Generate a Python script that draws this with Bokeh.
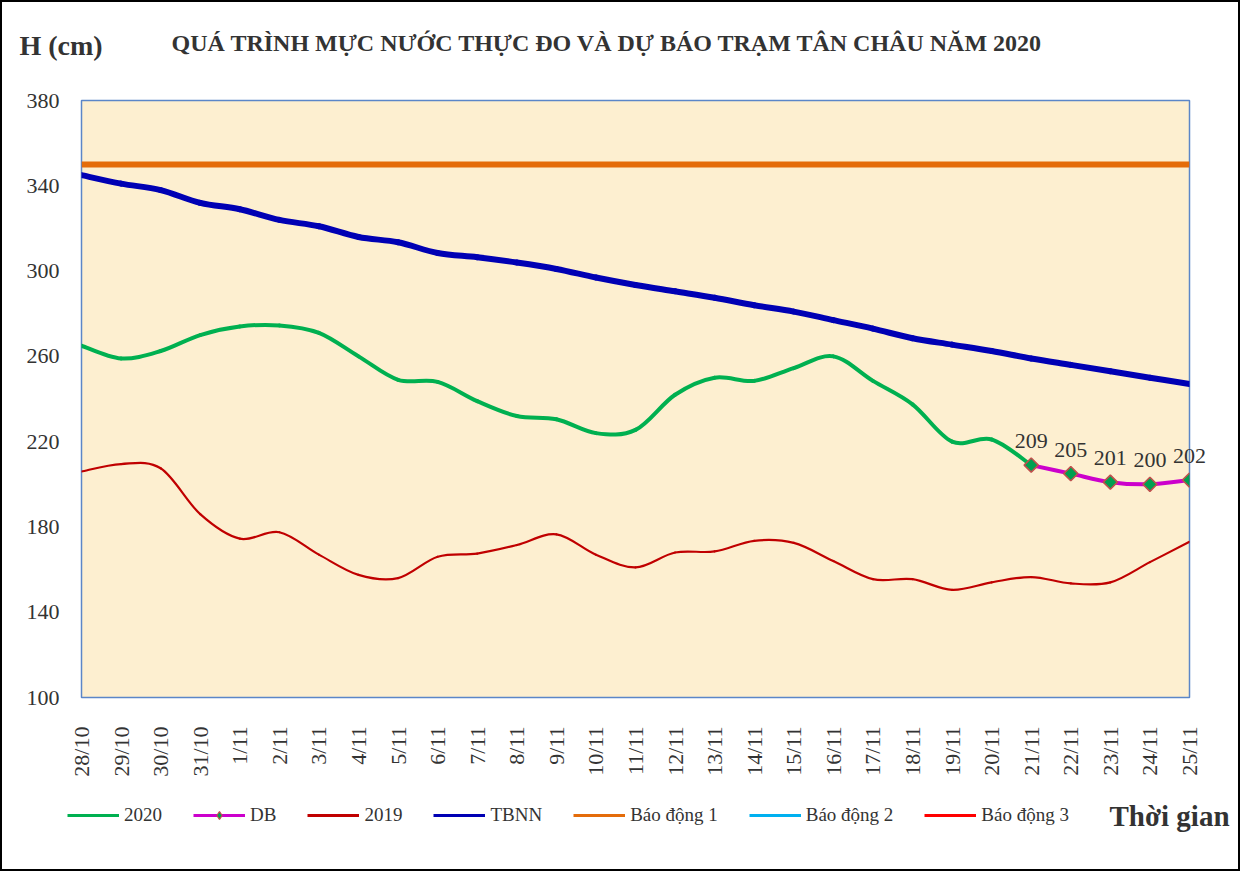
import numpy as np
from bokeh.plotting import figure
from bokeh.layouts import column
from bokeh.models import Range1d, FixedTicker, Legend, LegendItem, Label, ColumnDataSource
from bokeh.core.properties import value
from bokeh.embed import file_html
from bokeh.resources import INLINE

# ---------------- data ----------------
dates = ["28/10", "29/10", "30/10", "31/10", "1/11", "2/11", "3/11", "4/11", "5/11",
         "6/11", "7/11", "8/11", "9/11", "10/11", "11/11", "12/11", "13/11", "14/11",
         "15/11", "16/11", "17/11", "18/11", "19/11", "20/11", "21/11", "22/11",
         "23/11", "24/11", "25/11"]

# observed 2020 (28/10 .. 21/11)
h_2020 = [265, 259, 262.5, 270, 274, 274.5, 271, 260, 249, 248, 239, 232, 230.5,
          224, 225.5, 242, 250, 248.5, 254.5, 260, 248.5, 237.5, 220, 221, 209]
# forecast DB (21/11 .. 25/11)
h_db = [209, 205, 201, 200, 202]
# 2019
h_2019 = [206, 209.5, 207.5, 186, 174.5, 177.5, 167, 157.5, 156, 166, 167.5, 171.5,
          176.5, 167, 161, 168, 168.5, 173.5, 172.5, 164, 155.5, 155.5, 150.5, 154,
          156.5, 153.5, 154, 163.5, 173]
# TBNN (multi-year average)
h_tbnn = [345, 341, 338, 332, 329, 324, 321, 316, 313.5, 308.5, 306.5, 304, 301, 297,
          293.5, 290.5, 287.5, 284, 281, 277, 273, 268.5, 265.5, 262.5, 259, 256, 253,
          250, 247]
bao_dong_1 = 350
bao_dong_2 = 400
bao_dong_3 = 450
y_ticks = [100, 140, 180, 220, 260, 300, 340, 380]

series_names = ["2020", "DB", "2019", "TBNN", "Báo động 1", "Báo động 2", "Báo động 3"]
title_text = "QUÁ TRÌNH MỰC NƯỚC THỰC ĐO VÀ DỰ BÁO TRẠM TÂN CHÂU NĂM 2020"
y_title = "H (cm)"
x_title = "Thời gian"

# ---------------- helpers ----------------
x_all = list(range(len(dates)))
x_2020 = x_all[:len(h_2020)]
x_db = x_all[len(h_2020) - 1:len(h_2020) - 1 + len(h_db)]


def smooth_source(xs, ys, t=1.0 / 6.0):
    """Excel-like smoothed line as cubic Bezier segments between data points."""
    xs = np.asarray(xs, dtype=float)
    ys = np.asarray(ys, dtype=float)
    n = len(xs)
    xp = np.concatenate([[xs[0]], xs, [xs[-1]]])
    yp = np.concatenate([[ys[0]], ys, [ys[-1]]])
    d = dict(x0=[], y0=[], x1=[], y1=[], cx0=[], cy0=[], cx1=[], cy1=[])
    for i in range(n - 1):
        j = i + 1
        d["x0"].append(xp[j]); d["y0"].append(yp[j])
        d["x1"].append(xp[j + 1]); d["y1"].append(yp[j + 1])
        d["cx0"].append(xp[j] + (xp[j + 1] - xp[j - 1]) * t)
        d["cy0"].append(yp[j] + (yp[j + 1] - yp[j - 1]) * t)
        d["cx1"].append(xp[j + 1] - (xp[j + 2] - xp[j]) * t)
        d["cy1"].append(yp[j + 1] - (yp[j + 2] - yp[j]) * t)
    return ColumnDataSource(d)


FONT = "Liberation Serif"
TXT = "#333333"
W = 1236

col_2020 = "#00B050"
col_db = "#CC00CC"
col_2019 = "#C00000"
col_tbnn = "#0000B4"
col_bd1 = "#E46C0A"
col_bd2 = "#00B0F0"
col_bd3 = "#FF0000"
mk_fill = "#00A050"
mk_line = "#C0504D"


def blank_figure(height):
    f = figure(width=W, height=height, output_backend="svg", toolbar_location=None,
               x_range=Range1d(0, 1), y_range=Range1d(0, 1),
               x_axis_location=None, y_axis_location=None, min_border=0,
               outline_line_color=None, background_fill_color="white",
               border_fill_color="white", frame_align=False)
    f.grid.visible = False
    return f


# ---------------- header ----------------
top = blank_figure(68)
top.add_layout(Label(x=169, y=28, x_units="screen", y_units="screen", text=title_text,
                     text_font=FONT, text_font_style="bold", text_font_size="24px",
                     text_baseline="middle", text_color=TXT))
top.add_layout(Label(x=17, y=25, x_units="screen", y_units="screen", text=y_title,
                     text_font=FONT, text_font_style="bold", text_font_size="28px",
                     text_baseline="middle", text_color=TXT))

# ---------------- main chart ----------------
p = figure(width=W, height=715, output_backend="svg", toolbar_location=None,
           x_range=Range1d(0, len(dates) - 1), y_range=Range1d(y_ticks[0], y_ticks[-1]),
           min_border_left=79, min_border_right=49, min_border_top=30, min_border_bottom=88,
           background_fill_color="#FDEFD0", border_fill_color="white",
           outline_line_color="#5B86C8", outline_line_width=1.5, frame_align=False)
p.grid.visible = False

# alarm levels
p.line(x=x_all, y=[bao_dong_3] * len(x_all), line_color=col_bd3, line_width=3)
p.line(x=x_all, y=[bao_dong_2] * len(x_all), line_color=col_bd2, line_width=3)
p.line(x=x_all, y=[bao_dong_1] * len(x_all), line_color=col_bd1, line_width=6)

# smoothed series
for xs, ys, c, w in [(x_all, h_tbnn, col_tbnn, 6), (x_all, h_2019, col_2019, 2.2),
                     (x_2020, h_2020, col_2020, 4), (x_db, h_db, col_db, 4)]:
    p.bezier(source=smooth_source(xs, ys), x0="x0", y0="y0", x1="x1", y1="y1",
             cx0="cx0", cy0="cy0", cx1="cx1", cy1="cy1",
             line_color=c, line_width=w, line_cap="round")
p.scatter(x=x_db, y=h_db, marker="square", angle=np.pi / 4, size=10,
          fill_color=mk_fill, line_color=mk_line, line_width=1.6)

# data labels for forecast (last one overflows the frame -> annotation in side panel)
LBL_OFF = 17
p.text(x=x_db[:-1], y=h_db[:-1], text=[str(v) for v in h_db[:-1]], text_align="center",
       text_baseline="bottom", y_offset=-LBL_OFF, text_font=value(FONT),
       text_font_size="22px", text_color=TXT)
p.add_layout(Label(x=x_db[-1], y=h_db[-1], text=str(h_db[-1]), text_align="center",
                   text_baseline="bottom", y_offset=LBL_OFF, text_font=FONT,
                   text_font_size="22px", text_color=TXT), "above")

# axes
p.yaxis.ticker = FixedTicker(ticks=y_ticks)
p.yaxis.axis_line_color = None
p.yaxis.major_tick_line_color = None
p.yaxis.minor_tick_line_color = None
p.yaxis.major_tick_out = 0
p.yaxis.major_tick_in = 0
p.yaxis.major_label_standoff = 22
p.yaxis.major_label_text_font = FONT
p.yaxis.major_label_text_font_size = "22px"
p.yaxis.major_label_text_color = TXT

p.xaxis.ticker = FixedTicker(ticks=x_all)
p.xaxis.major_label_overrides = {i: d for i, d in zip(x_all, dates)}
p.xaxis.major_label_orientation = np.pi / 2
p.xaxis.axis_line_color = None
p.xaxis.major_tick_line_color = None
p.xaxis.minor_tick_line_color = None
p.xaxis.major_tick_out = 0
p.xaxis.major_tick_in = 0
p.xaxis.major_label_standoff = 29
p.xaxis.major_label_text_font = FONT
p.xaxis.major_label_text_font_size = "22px"
p.xaxis.major_label_text_color = TXT

# ---------------- legend row ----------------
bot = blank_figure(84)
nan = [np.nan]
lg = {}
lg["2020"] = [bot.line(x=nan, y=nan, line_color=col_2020, line_width=3)]
lg["DB"] = [bot.line(x=nan, y=nan, line_color=col_db, line_width=3),
            bot.scatter(x=nan, y=nan, marker="diamond", size=11,
                        fill_color=mk_fill, line_color=mk_line, line_width=1.2)]
lg["2019"] = [bot.line(x=nan, y=nan, line_color=col_2019, line_width=3)]
lg["TBNN"] = [bot.line(x=nan, y=nan, line_color=col_tbnn, line_width=3)]
lg["Báo động 1"] = [bot.line(x=nan, y=nan, line_color=col_bd1, line_width=3)]
lg["Báo động 2"] = [bot.line(x=nan, y=nan, line_color=col_bd2, line_width=3)]
lg["Báo động 3"] = [bot.line(x=nan, y=nan, line_color=col_bd3, line_width=3)]

legend = Legend(items=[LegendItem(label=n, renderers=lg[n]) for n in series_names],
                orientation="horizontal", location=(65, 43),
                glyph_width=52, glyph_height=20, label_standoff=5, spacing=31,
                padding=0, margin=0, border_line_color=None, background_fill_alpha=0,
                label_text_font=FONT, label_text_font_size="19px", label_text_color=TXT,
                label_height=20)
bot.add_layout(legend)
bot.add_layout(Label(x=1107, y=54, x_units="screen", y_units="screen", text=x_title,
                     text_font=FONT, text_font_style="bold", text_font_size="29px",
                     text_baseline="middle", text_color=TXT))

layout = column(top, p, bot, spacing=0, styles={"border": "2px solid black"})

open("out.html", "w").write(file_html(layout, INLINE))
